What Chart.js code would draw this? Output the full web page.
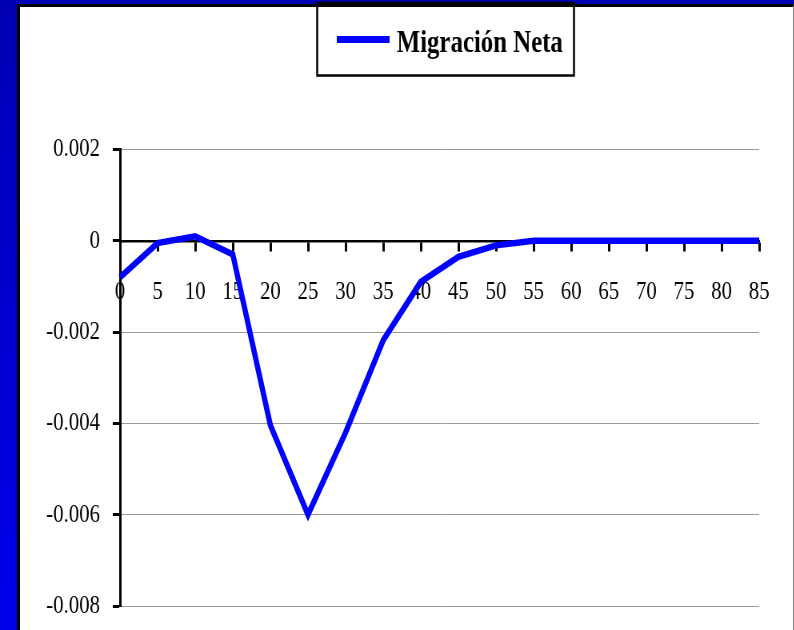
<!DOCTYPE html>
<html>
<head>
<meta charset="utf-8">
<title>Migración Neta</title>
<script src="https://cdn.jsdelivr.net/npm/chart.js@4.4.1/dist/chart.umd.min.js"></script>
<style>
  html, body { margin: 0; padding: 0; }
  body {
    width: 794px; height: 630px; overflow: hidden; position: relative;
    background: linear-gradient(to bottom, #0000b4, #0000ec);
  }
  #panel {
    position: absolute; left: 17px; top: 4px; width: 773px; height: 640px;
    background: #fff;
    border-left: 3px solid #000; border-top: 3px solid #000; border-right: 1px solid #808080;
  }
  /* the slide squeezes everything horizontally, so the canvas is drawn wide and scaled down */
  #wrap {
    position: absolute; left: 0; top: 0; width: 993px; height: 630px;
    transform: scaleX(0.8); transform-origin: 0 0;
  }
</style>
</head>
<body>
<div id="panel"></div>
<div id="wrap"><canvas id="chart" width="993" height="630"></canvas></div>
<script>
'use strict';

let seriesName = 'Migración Neta';
let ages = ['0', '5', '10', '15', '20', '25', '30', '35', '40', '45', '50', '55', '60', '65', '70', '75', '80', '85'];
let netMigration = [-0.0008, -0.00005, 0.0001, -0.0003, -0.00404, -0.006, -0.0042, -0.00218, -0.0009, -0.00035, -0.0001, 0, 0, 0, 0, 0, 0, 0];
let yTicks = [0.002, 0, -0.002, -0.004, -0.006, -0.008];
let yTickLabels = ['0.002', '0', '-0.002', '-0.004', '-0.006', '-0.008'];

let serif = '"Liberation Serif", "Times New Roman", Times, serif';

// boxed legend at the top, drawn over the chart
let legendBox = {
  id: 'legendBox',
  afterDraw(chart) {
    let ctx = chart.ctx;
    let ds = chart.data.datasets[0];
    ctx.save();
    ctx.strokeStyle = '#000';
    ctx.lineWidth = 2.5;
    ctx.strokeRect(396.5, 3, 321, 72.5);
    ctx.fillStyle = ds.borderColor;
    ctx.fillRect(421, 36, 66, 7);
    ctx.fillStyle = '#000';
    ctx.font = 'bold 31px ' + serif;
    ctx.textBaseline = 'alphabetic';
    ctx.textAlign = 'left';
    ctx.fillText(ds.label, 496, 52);
    ctx.restore();
  }
};

let chartData = {
  type: 'line',
  data: {
    labels: ages,
    datasets: [{
      label: seriesName,
      data: netMigration,
      borderColor: '#0000ff',
      backgroundColor: '#0000ff',
      borderWidth: 6.5,
      borderJoinStyle: 'miter',
      pointRadius: 0,
      tension: 0,
      fill: false
    }]
  },
  options: {
    responsive: false,
    animation: false,
    layout: {
      padding: { left: 0, top: 149.5, right: 44, bottom: 24 }
    },
    plugins: {
      legend: { display: false },
      tooltip: { enabled: false }
    },
    scales: {
      x: {
        type: 'category',
        position: { y: 0 },
        offset: false,
        afterFit: function (scale) { scale.height = 0; },
        grid: {
          drawOnChartArea: false,
          drawTicks: true,
          tickLength: 9,
          tickWidth: 3,
          tickColor: '#000'
        },
        border: { color: '#000', width: 2.5 },
        ticks: {
          color: '#000',
          font: { family: serif, size: 26 },
          padding: 27,
          maxRotation: 0,
          autoSkip: false
        }
      },
      y: {
        min: -0.008,
        max: 0.002,
        afterFit: function (scale) {
          scale.width = 150;
          scale.paddingTop = 0;
          scale.paddingBottom = 0;
        },
        afterBuildTicks: function (scale) {
          scale.ticks = yTicks.map(function (v) { return { value: v }; });
        },
        grid: {
          color: function (c) { return c.tick && c.tick.value === 0 ? 'rgba(0,0,0,0)' : '#9a9a9a'; },
          lineWidth: 1,
          borderDash: [3, 2],
          tickLength: 9,
          tickWidth: 3,
          tickColor: '#000',
          tickBorderDash: []
        },
        border: { color: '#000', width: 3 },
        ticks: {
          color: '#000',
          font: { family: serif, size: 26 },
          padding: 16,
          callback: function (value, index) { return yTickLabels[index]; }
        }
      }
    }
  },
  plugins: [legendBox]
};

let ctx = document.getElementById('chart');
new Chart(ctx, chartData);
</script>
</body>
</html>
